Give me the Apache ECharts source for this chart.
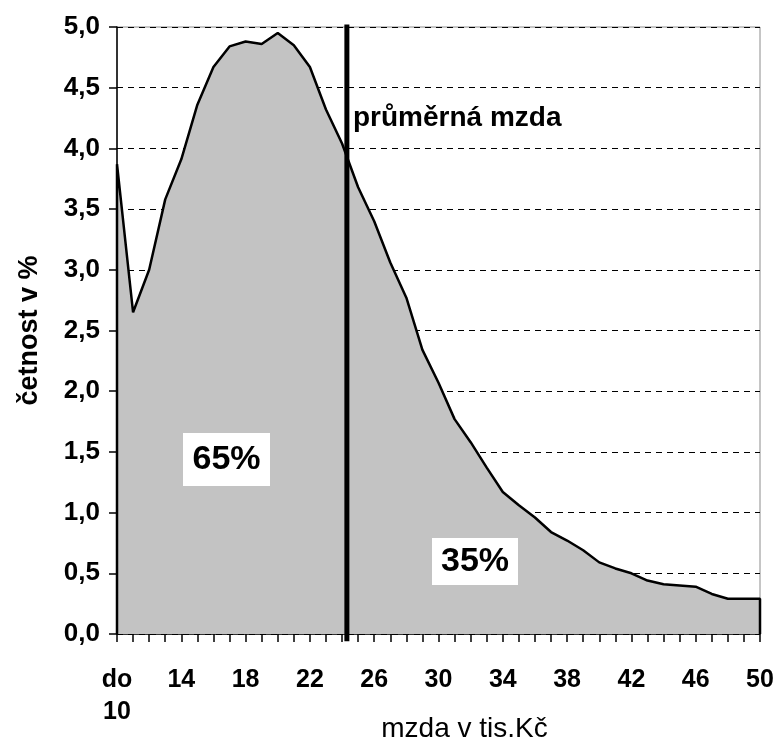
<!DOCTYPE html>
<html>
<head>
<meta charset="utf-8">
<script src="https://cdn.jsdelivr.net/npm/echarts@6/dist/echarts.min.js"></script>
<style>html,body{margin:0;padding:0;background:#fff}#c{width:776px;height:737px}</style>
</head>
<body>
<div id="c"></div>
<script>
// wage (thousand CZK) categories
const wages = [10,11,12,13,14,15,16,17,18,19,20,21,22,23,24,25,26,27,28,29,30,31,32,33,34,35,36,37,38,39,40,41,42,43,44,45,46,47,48,49,50];
// frequency in %
const freq = [3.87,2.65,3.00,3.58,3.91,4.36,4.67,4.84,4.88,4.86,4.95,4.85,4.67,4.32,4.04,3.68,3.40,3.06,2.77,2.34,2.07,1.77,1.58,1.37,1.17,1.06,0.96,0.84,0.77,0.69,0.59,0.54,0.50,0.44,0.41,0.40,0.39,0.33,0.29,0.29,0.29];
const averageWage = 24.3;
const yTicks = [0,0.5,1,1.5,2,2.5,3,3.5,4,4.5,5];
const xLabelEvery = 4;
const shareLeft = '65%';
const shareRight = '35%';

const areaData = [[wages[0], 0]].concat(wages.map((w, i) => [w, freq[i]])).concat([[wages[wages.length - 1], 0]]);

const chart = echarts.init(document.getElementById('c'));
chart.setOption({
  animation: false,
  backgroundColor: '#fff',
  grid: { left: 117, right: 16, top: 27, bottom: 103, outerBoundsMode: 'none', containLabel: false, show: true, borderColor: '#8c8c8c', borderWidth: 1, backgroundColor: 'transparent' },
  xAxis: {
    type: 'value', min: wages[0], max: wages[wages.length - 1], interval: 1,
    name: 'mzda v tis.Kč', nameLocation: 'middle', nameGap: 81, nameMoveOverlap: false,
    nameTextStyle: { fontFamily: 'Liberation Sans', fontSize: 28, color: '#000', verticalAlign: 'top', padding: [0, 0, 0, 52] },
    axisLine: { show: true, onZero: false, lineStyle: { color: '#000', width: 1.5 } },
    axisTick: { show: true, length: 8, lineStyle: { color: '#000', width: 1.5 } },
    splitLine: { show: false },
    axisLabel: {
      color: '#000', fontFamily: 'Liberation Sans', fontWeight: 'bold', fontSize: 25, margin: 30, lineHeight: 32,
      formatter: v => v === wages[0] ? 'do\n' + v : ((v - wages[0]) % xLabelEvery === 0 ? String(v) : '')
    }
  },
  yAxis: {
    type: 'value', min: yTicks[0], max: yTicks[yTicks.length - 1], interval: 0.5,
    name: 'četnost v %', nameLocation: 'middle', nameGap: 74, nameRotate: 90, nameMoveOverlap: false,
    nameTextStyle: { fontFamily: 'Liberation Sans', fontWeight: 'bold', fontSize: 27, color: '#000' },
    axisLine: { show: true, lineStyle: { color: '#000', width: 1.5 } },
    axisTick: { show: true, length: 8, lineStyle: { color: '#000', width: 1.5 } },
    splitLine: { show: true, lineStyle: { color: '#000', width: 1, type: [6, 5] } },
    axisLabel: {
      color: '#000', fontFamily: 'Liberation Sans', fontWeight: 'bold', fontSize: 26, margin: 17,
      formatter: v => v.toFixed(1).replace('.', ',')
    }
  },
  series: [
    {
      type: 'line', data: areaData, symbol: 'none', z: 2,
      lineStyle: { color: '#000', width: 2.5 },
      areaStyle: { color: '#c3c3c3', opacity: 1 }
    },
    {
      type: 'line', data: [[averageWage, -0.06], [averageWage, 5.02]], symbol: 'none', clip: false, z: 5,
      lineStyle: { color: '#000', width: 5 }
    }
  ],
  graphic: [
    { type: 'text', left: 353, top: 104, z: 10, style: { text: 'průměrná mzda', font: 'bold 28px "Liberation Sans"', fill: '#000' } },
    { type: 'rect', left: 183, top: 433, z: 10, shape: { width: 87, height: 53 }, style: { fill: '#fff' } },
    { type: 'text', x: 226.5, y: 459.5, z: 11, style: { text: shareLeft, font: 'bold 34px "Liberation Sans"', fill: '#000', align: 'center', verticalAlign: 'middle' } },
    { type: 'rect', left: 432, top: 538, z: 10, shape: { width: 86, height: 47 }, style: { fill: '#fff' } },
    { type: 'text', x: 475, y: 561.5, z: 11, style: { text: shareRight, font: 'bold 34px "Liberation Sans"', fill: '#000', align: 'center', verticalAlign: 'middle' } }
  ]
});
</script>
</body>
</html>
